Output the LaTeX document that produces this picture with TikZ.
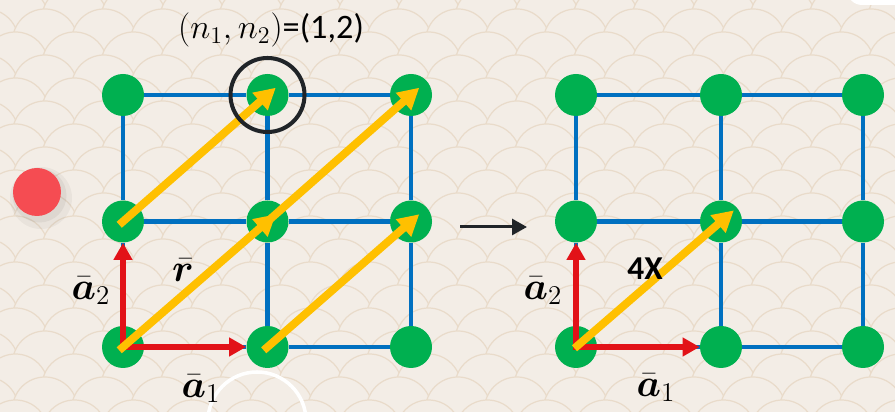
\RequirePackage{fix-cm}
\documentclass[tikz,border=0pt]{standalone}
\usepackage{amsmath}
\usepackage{bm}
\usepackage{fontspec}
\setsansfont{Carlito}
\usetikzlibrary{arrows.meta}
\definecolor{bgbeige}{RGB}{243,237,230}
\definecolor{scaleline}{RGB}{233,219,202}
\definecolor{sitegreen}{RGB}{0,176,80}
\definecolor{latblue}{RGB}{0,112,192}
\definecolor{vecred}{RGB}{226,18,24}
\definecolor{vecyellow}{RGB}{255,192,0}
\definecolor{inkdark}{RGB}{32,36,40}
\definecolor{dotred}{RGB}{245,76,82}
\tikzset{
  site/.style={circle,fill=sitegreen,minimum size=0.84cm,inner sep=0pt},
  latt/.style={line width=2.3pt,latblue},
  bvec/.style={-{Triangle[length=0.34cm,width=0.36cm]},line width=3.4pt,vecred,shorten <=-0.06cm},
  rvec/.style={-{Triangle[length=0.42cm,width=0.44cm]},line width=4.5pt,vecyellow},
  veclbl/.style={font=\fontsize{22}{26}\selectfont},
}

\begin{document}
\begin{tikzpicture}
  \useasboundingbox (0,0) rectangle (17.9,8.24);
  \begin{scope}
  \clip (0,0) rectangle (17.9,8.24);
  % Background with scales
  \fill[bgbeige] (0,0) rectangle (17.9,8.24);
  \foreach \k in {14,13,...,-6} {
    \pgfmathsetmacro\off{mod(\k+20,2)*0.59}
    \foreach \m in {-9,...,7}
      \draw[scaleline,line width=0.7pt,fill=bgbeige] ({9.75+\m*1.18+\off},{2.35+\k*0.46}) circle (0.65);
  }
  % Red dot
  \fill[black,opacity=0.04] (0.82,4.28) circle (0.62);
  \fill[black,opacity=0.05] (0.79,4.33) circle (0.54);
  \fill[dotred] (0.74,4.40) circle (0.48);
  % White bits of the slide
  \draw[white,line width=2pt] (5.14,-0.18) circle (0.98);
  \fill[white,rounded corners=0.3cm] (16.94,8.14) rectangle (18.4,8.8);
  \end{scope}

  % Left lattice
  \foreach \i/\x in {0/2.46,1/5.35,2/8.22}
    \foreach \j/\y in {0/1.30,1/3.81,2/6.34}
      \node[site] (L\i\j) at (\x,\y) {};
  \foreach \i in {0,1,2}
    \foreach \j/\jn in {0/1,1/2} {
      \draw[latt] (L\i\j) -- (L\i\jn);
      \draw[latt] (L\j\i) -- (L\jn\i);
    }
  \draw[bvec] (L00.center) -- (L10);
  \draw[bvec] (L00.center) -- (L01);
  \draw[rvec,shorten <=-0.1cm,shorten >=-0.22cm] (L01.center) -- (L12.center);
  \draw[rvec,shorten <=-0.1cm,shorten >=-0.22cm] (L00.center) -- (L11.center);
  \draw[rvec,shorten <=-0.1cm,shorten >=-0.22cm] (L11.center) -- (L22.center);
  \draw[rvec,shorten <=-0.1cm,shorten >=-0.22cm] (L10.center) -- (L21.center);
  \node[draw=inkdark,circle,line width=2.3pt,minimum size=1.48cm] (pick) at (L12) {};
  \node[font=\fontsize{19.5}{22}\selectfont] (nlbl) at (5.42,7.64) {$(n_1, n_2)$\textsf{=(1,2)}};
  \node[veclbl] (La2) at (1.82,2.42) {$\bar{\bm a}_2$};
  \node[veclbl] (La1) at (4.02,0.46) {$\bar{\bm a}_1$};
  \node[veclbl] (Lr) at (3.66,2.84) {$\bar{\bm r}$};

  % Arrow between
  \coordinate (gofrom) at (9.20,3.70);
  \coordinate (goto) at (10.54,3.70);
  \draw[-{Triangle[length=0.3cm,width=0.32cm]},line width=1.7pt,inkdark] (gofrom) -- (goto);

  % Right lattice
  \foreach \i/\x in {0/11.52,1/14.42,2/17.26}
    \foreach \j/\y in {0/1.30,1/3.81,2/6.34}
      \node[site] (R\i\j) at (\x,\y) {};
  \foreach \i in {0,1,2}
    \foreach \j/\jn in {0/1,1/2} {
      \draw[latt] (R\i\j) -- (R\i\jn);
      \draw[latt] (R\j\i) -- (R\jn\i);
    }
  \draw[bvec] (R00.center) -- (R10);
  \draw[bvec] (R00.center) -- (R01);
  \draw[rvec,shorten <=-0.04cm,shorten >=-0.34cm] (R00.center) -- (R11.center);
  \node[veclbl] (Ra2) at (10.86,2.42) {$\bar{\bm a}_2$};
  \node[veclbl] (Ra1) at (13.12,0.48) {$\bar{\bm a}_1$};
  \node[font=\sffamily\bfseries\fontsize{19}{22}\selectfont] (scl) at (12.90,2.86) {4X};
\end{tikzpicture}
\end{document}
